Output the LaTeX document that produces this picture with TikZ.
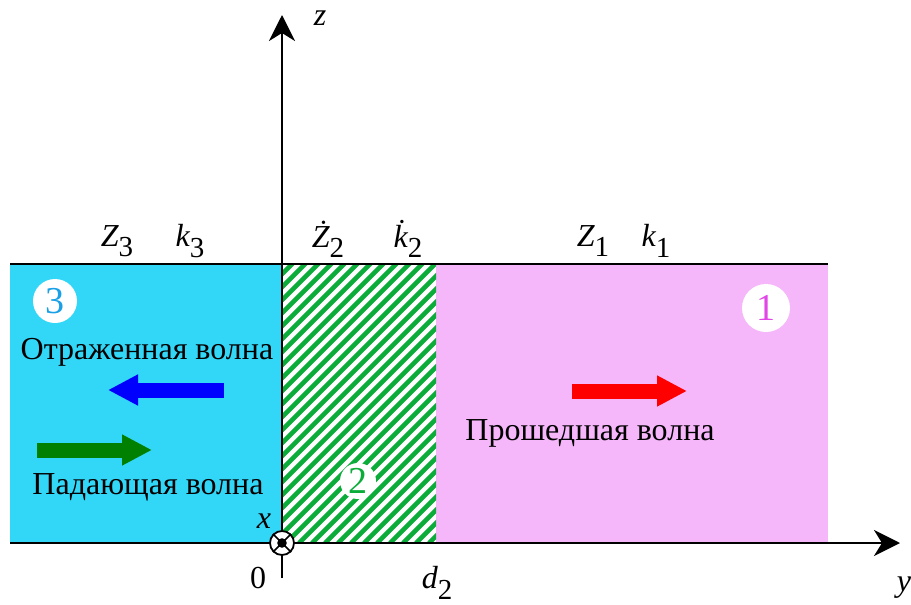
\documentclass[tikz,border=0pt]{standalone}
\usepackage{fontspec}
\setmainfont{Liberation Serif}
\usetikzlibrary{arrows.meta}
\definecolor{cmedthree}{RGB}{50,215,248}
\definecolor{cmedone}{RGB}{245,182,250}
\definecolor{chatch}{RGB}{12,172,58}
\definecolor{cnumthree}{RGB}{25,160,230}
\definecolor{cnumone}{RGB}{225,70,230}
\definecolor{cwavein}{RGB}{0,128,0}
\newcommand{\lowidx}[1]{\raisebox{-0.32em}{\upshape\fontsize{14.5}{16}\selectfont #1}}

\begin{document}
\begin{tikzpicture}[x=0.5pt,y=-0.5pt,
  axis/.style={line width=1.2pt,-{Stealth[length=13pt,width=13pt,inset=4pt]}},
  border/.style={line width=1pt},
  wave/.style={line width=7.5pt,-{Triangle[length=15pt,width=14.5pt]}},
  txt/.style={font=\fontsize{16}{18}\selectfont,inner sep=0pt},
  lbl/.style={font=\fontsize{16}{18}\selectfont\itshape,inner sep=0pt},
  num/.style={circle,fill=white,inner sep=0pt,font=\fontsize{19}{21}\selectfont}
]
\useasboundingbox (0,0) rectangle (911,605);
% media
\fill[cmedthree] (10,264) rectangle (282,543);
\fill[cmedone] (436,264) rectangle (828,543);
\begin{scope}
  \clip (282,264) rectangle (436,543);
  \foreach \s in {0,13,...,460}
    \draw[chatch,line width=2.3pt] (\s,543) -- ++(300,-300);
\end{scope}
% boundaries and axes
\coordinate (tl) at (10,264);
\coordinate (tr) at (828,264);
\coordinate (ys) at (10,543);
\coordinate (ye) at (900,543);
\coordinate (zs) at (282,578);
\coordinate (ze) at (282,15);
\draw[border] (tl) -- (tr);
\draw[axis] (ys) -- (ye);
\draw[axis] (zs) -- (ze);
\node[lbl] (zlab) at (320,18) {z};
\node[lbl] (ylab) at (904,588) {y};
% origin, x axis out of page
\node[circle,draw,line width=0.9pt,fill=white,minimum size=12pt,inner sep=0pt] (orig) at (282,543) {};
\draw[line width=0.8pt] (orig.north west) -- (orig.south east) (orig.north east) -- (orig.south west);
\fill (orig.center) circle (2.4pt);
\node[lbl] (xlab) at (264,521) {x};
\node[txt] (zero) at (258,578) {0};
\node[lbl] (dlab) at (437,583) {d\lowidx{2}};
% parameters
\node[lbl] (zthree) at (117,241) {Z\lowidx{3}};
\node[lbl] (kthree) at (190,241) {k\lowidx{3}};
\node[lbl] (ztwo) at (328,239) {\.{Z}\lowidx{2}};
\node[lbl] (ktwo) at (408,239) {\.{k}\lowidx{2}};
\node[lbl] (zone) at (593,241) {Z\lowidx{1}};
\node[lbl] (kone) at (656,241) {k\lowidx{1}};
% medium numbers
\node[num,minimum size=22pt,text=cnumthree] (mthree) at (55,301) {3};
\node[num,minimum size=18pt,text=chatch] (mtwo) at (358,481) {2};
\node[num,minimum size=24pt,text=cnumone] (mone) at (766,308) {1};
% waves
\coordinate (rs) at (224,390);
\coordinate (re) at (108,390);
\coordinate (is) at (37,450);
\coordinate (ie) at (152,450);
\coordinate (ts) at (572,391);
\coordinate (te) at (687,391);
\draw[wave,blue] (rs) -- (re);
\draw[wave,cwavein] (is) -- (ie);
\draw[wave,red] (ts) -- (te);
\node[txt] (refl) at (147,352) {Отраженная волна};
\node[txt] (inc) at (148,487) {Падающая волна};
\node[txt] (trans) at (590,433) {Прошедшая волна};
\end{tikzpicture}
\end{document}
